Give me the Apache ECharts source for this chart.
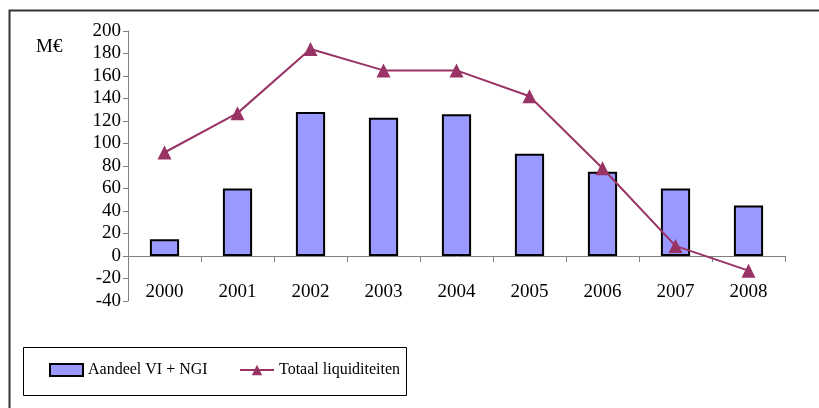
<!DOCTYPE html>
<html><head><meta charset="utf-8">
<script src="https://cdn.jsdelivr.net/npm/echarts@6/dist/echarts.min.js"></script>
<style>html,body{margin:0;padding:0;background:#fff}#c{width:819px;height:408px}</style>
</head><body><div id="c"></div>
<script>
const categories = ['2000','2001','2002','2003','2004','2005','2006','2007','2008'];
const aandeel = [15, 60, 128, 123, 126, 91, 75, 60, 45];
const totaal = [92, 127, 184, 165, 165, 142, 78, 9, -13];
const yTicks = {min: -40, max: 200, interval: 20};
const F = 'Liberation Serif';

const chart = echarts.init(document.getElementById('c'), null, {renderer: 'canvas'});
chart.setOption({
  animation: false,
  backgroundColor: '#fff',
  textStyle: {fontFamily: F},
  grid: {left: 128, right: 34, top: 31, bottom: 107},
  xAxis: {
    type: 'category', data: categories, boundaryGap: true,
    axisLine: {onZero: true, lineStyle: {color: '#808080', width: 1}},
    axisTick: {show: true, inside: false, length: 6, lineStyle: {color: '#808080'}},
    axisLabel: {color: '#000', fontSize: 19, fontFamily: F, margin: -18}
  },
  yAxis: {
    type: 'value', min: yTicks.min, max: yTicks.max, interval: yTicks.interval,
    splitLine: {show: false},
    axisLine: {show: true, lineStyle: {color: '#808080', width: 1}},
    axisTick: {show: true, length: 5, lineStyle: {color: '#808080'}},
    axisLabel: {color: '#000', fontSize: 19, fontFamily: F, margin: 7}
  },
  legend: [
    {data: [{name: 'Aandeel VI + NGI', icon: 'rect'}], left: 49, top: 362, padding: 0, itemWidth: 33, itemHeight: 12,
     textStyle: {fontSize: 16, fontFamily: F, color: '#000'}},
    {data: ['Totaal liquiditeiten'], left: 239, top: 362, padding: 0, itemWidth: 34, itemHeight: 13,
     textStyle: {fontSize: 16, fontFamily: F, color: '#000'}}
  ],
  graphic: [
    {type: 'rect', shape: {x: 9.5, y: 10.5, width: 830, height: 420}, style: {fill: 'none', stroke: '#333', lineWidth: 2}, z: -1},
    {type: 'rect', shape: {x: 23.5, y: 347.5, width: 383, height: 48}, style: {fill: '#fff', stroke: '#000', lineWidth: 1}, z: 0},
    {type: 'text', left: 36, top: 38, style: {text: 'M€', fontSize: 19, fontFamily: F, fill: '#000'}}
  ],
  series: [
    {name: 'Aandeel VI + NGI', type: 'bar', data: aandeel, barWidth: '40%',
     itemStyle: {color: '#9999FF', borderColor: '#000', borderWidth: 2}},
    {name: 'Totaal liquiditeiten', type: 'line', data: totaal, symbol: 'triangle', symbolSize: 14,
     lineStyle: {color: '#993366', width: 2}, itemStyle: {color: '#993366'}, z: 5}
  ]
});
</script></body></html>
